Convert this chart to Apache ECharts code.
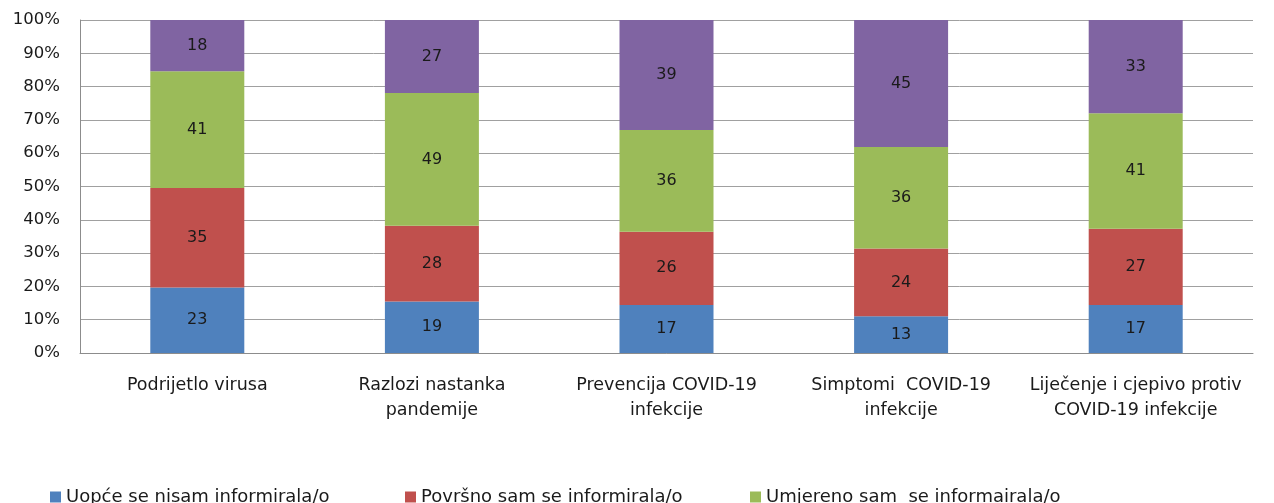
<!DOCTYPE html>
<html>
<head>
<meta charset="utf-8">
<style>
  html, body { margin: 0; padding: 0; background: #fff; }
  #chart { width: 1274px; height: 503px; }
</style>
<script src="https://cdn.jsdelivr.net/npm/echarts@6/dist/echarts.min.js"></script>
</head>
<body>
<div id="chart"></div>
<script>
// categories and raw answer counts per group (bars are drawn as % of column total)
const categories = [
  'Podrijetlo virusa',
  'Razlozi nastanka\npandemije',
  'Prevencija COVID-19\ninfekcije',
  'Simptomi  COVID-19\ninfekcije',
  'Liječenje i cjepivo protiv\nCOVID-19 infekcije'
];
const seriesNames = [
  'Uopće se nisam informirala/o',
  'Površno sam se informirala/o',
  'Umjereno sam  se informairala/o',
  'Detaljno sam se informirala/o'
];
const notInformed = [23, 19, 17, 13, 17];
const superficial = [35, 28, 26, 24, 27];
const moderate = [41, 49, 36, 36, 41];
const detailed = [18, 27, 39, 45, 33];
const yTicks = ['0%', '10%', '20%', '30%', '40%', '50%', '60%', '70%', '80%', '90%', '100%'];

const colors = ['#4F81BD', '#C0504D', '#9BBB59', '#8064A2'];
const raw = [notInformed, superficial, moderate, detailed];

const totals = categories.map((c, i) => raw.reduce((s, arr) => s + arr[i], 0));

const series = raw.map((arr, k) => ({
  name: seriesNames[k],
  type: 'bar',
  stack: 'all',
  barWidth: 94,
  data: arr.map((v, i) => ({ value: v / totals[i] * 100, raw: v })),
  itemStyle: { color: colors[k] },
  label: {
    show: true,
    position: 'inside',
    color: '#1a1a1a',
    fontFamily: 'DejaVu Sans',
    fontSize: 16,
    formatter: p => p.data.raw
  }
}));

const legendFont = { fontFamily: 'DejaVu Sans', fontSize: 18, color: '#1a1a1a' };
// only the first three keys fit in the visible strip
const legendLefts = [50, 405, 750];

const chart = echarts.init(document.getElementById('chart'));
chart.setOption({
  animation: false,
  grid: { left: 80, right: 21, top: 20, bottom: 150 },
  legend: legendLefts.map((l, k) => ({
    data: [seriesNames[k]],
    left: l,
    top: 488,
    icon: 'rect',
    itemWidth: 11,
    itemHeight: 11,
    padding: 0,
    textStyle: legendFont,
    selectedMode: false
  })),
  xAxis: {
    type: 'category',
    data: categories,
    axisLine: { lineStyle: { color: '#8c8c8c' } },
    axisTick: { show: false },
    axisLabel: {
      interval: 0,
      margin: 20,
      color: '#1a1a1a',
      fontFamily: 'DejaVu Sans',
      fontSize: 17.5,
      lineHeight: 25
    }
  },
  yAxis: {
    type: 'value',
    min: 0,
    max: 100,
    interval: 10,
    axisLine: { show: true, lineStyle: { color: '#8c8c8c' } },
    axisTick: { show: false },
    splitLine: { lineStyle: { color: '#a0a0a0' } },
    axisLabel: {
      margin: 20,
      color: '#1a1a1a',
      fontFamily: 'DejaVu Sans',
      fontSize: 16.5,
      formatter: v => yTicks[Math.round(v / 10)]
    }
  },
  series: series
});
</script>
</body>
</html>
